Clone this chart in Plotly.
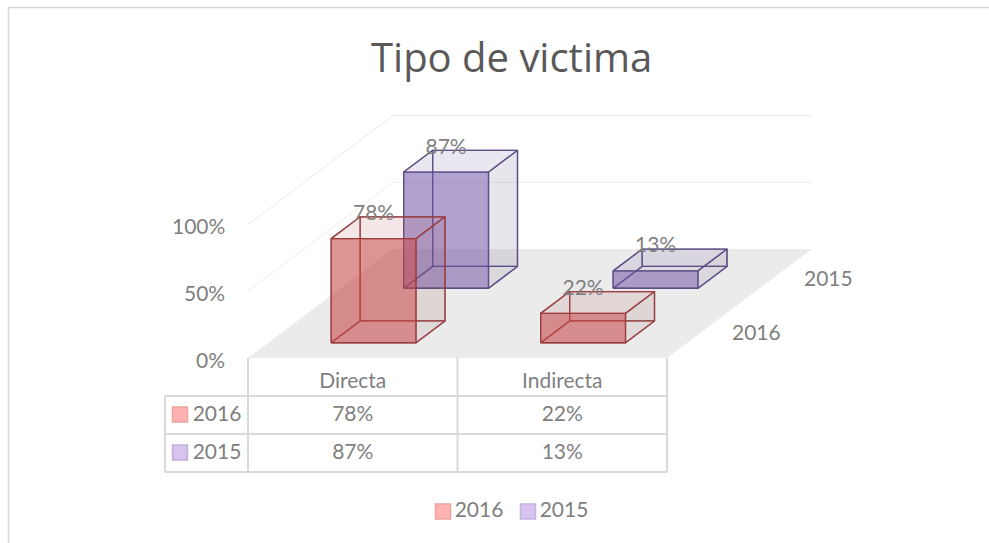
import plotly.graph_objects as go

# ---- data ----
title_text = "Tipo de victima"
categories = ["Directa", "Indirecta"]
series_names = ["2016", "2015"]
values_2016 = [78, 22]
values_2015 = [87, 13]
tick_values = [0, 50, 100]

# ---- oblique projection (style / layout constants) ----
OX, OY = 248.0, 358.0        # front-left corner of floor
CAT_W = 209.5                # pixels per category
DX, DY = 72.5, -54.5         # pixels per series along depth
PX_PCT = 1.335               # pixels per percent
BAR_C0, BAR_CW = 0.30, 0.405
BAR_D0, BAR_DW = 0.28, 0.40
GRID = "#ececec"
TABLE = "#d9d9d9"
TXT = "#7f7f7f"
FONT = "Lato"
FS = 21

STYLES = {
    "2016": dict(front="rgba(200,70,70,0.55)", bottom="rgba(200,70,70,0.04)",
                 side="rgba(130,90,90,0.08)", top="rgba(190,90,90,0.07)",
                 edge="rgba(150,60,62,0.85)", key="#ffb3b0", keyline="#eba3a0"),
    "2015": dict(front="rgba(110,80,165,0.50)", bottom="rgba(110,80,165,0.04)",
                 side="rgba(90,75,120,0.08)", top="rgba(110,90,150,0.07)",
                 edge="rgba(90,75,130,0.85)", key="#d6c3ee", keyline="#c3b1dc"),
}


def P(c, d, v):
    """category, series-depth, percent -> plot coordinates"""
    return (OX + c * CAT_W + d * DX, OY + d * DY - v * PX_PCT)


fig = go.Figure()


def poly(pts, fill=None, line=None, width=1.3):
    xs = [p[0] for p in pts]
    ys = [p[1] for p in pts]
    fig.add_trace(go.Scatter(
        x=xs, y=ys, mode="lines", hoverinfo="skip", showlegend=False,
        fill="toself" if fill else None, fillcolor=fill,
        line=dict(color=line or "rgba(0,0,0,0)", width=width if line else 0),
    ))


def label(x, y, text, size=FS, color=TXT):
    fig.add_trace(go.Scatter(
        x=[x], y=[y + 2], mode="text", text=[text], textposition="middle center",
        textfont=dict(family=FONT, size=size, color=color),
        hoverinfo="skip", showlegend=False,
    ))


def key(x, y, name):
    st = STYLES[name]
    fig.add_trace(go.Scatter(
        x=[x], y=[y], mode="markers", hoverinfo="skip", showlegend=False,
        marker=dict(symbol="square", size=15, color=st["key"],
                    line=dict(color=st["keyline"], width=1.5)),
    ))


# frame of the chart
poly([(8.5, 543), (8.5, 7.5), (989, 7.5)], line="#d9d9d9", width=1.5)

# floor
poly([P(0, 0, 0), P(2, 0, 0), P(2, 2, 0), P(0, 2, 0), P(0, 0, 0)], fill="#ebebeb")

# gridlines on the walls
for t in tick_values[1:]:
    poly([P(0, 0, t), P(0, 2, t), P(2, 2, t)], line=GRID, width=1)


def bar(ci, si, v, name):
    st = STYLES[name]
    c0, c1 = ci + BAR_C0, ci + BAR_C0 + BAR_CW
    d0, d1 = si + BAR_D0, si + BAR_D0 + BAR_DW
    fb = [P(c0, d0, 0), P(c1, d0, 0), P(c1, d0, v), P(c0, d0, v)]
    bb = [P(c0, d1, 0), P(c1, d1, 0), P(c1, d1, v), P(c0, d1, v)]
    close = lambda a: a + [a[0]]
    # back, left, bottom, right, top, front
    poly(close(bb), fill=st["top"], line=st["edge"])
    poly(close([fb[0], bb[0], bb[3], fb[3]]), fill=st["top"], line=st["edge"])
    poly(close([fb[0], fb[1], bb[1], bb[0]]), fill=st["bottom"], line=st["edge"])
    poly(close([fb[1], bb[1], bb[2], fb[2]]), fill=st["side"], line=st["edge"])
    poly(close([fb[3], fb[2], bb[2], bb[3]]), fill=st["top"], line=st["edge"])
    poly(close(fb), fill=st["front"], line=st["edge"])
    x = (fb[0][0] + fb[1][0]) / 2
    y = bb[3][1] - 4
    return x, y, f"{v}%"


# far series first, so the near series overlays it
labels = []
for ci, v in enumerate(values_2015):
    labels.append(bar(ci, 1, v, "2015"))
for ci, v in enumerate(values_2016):
    labels.append(bar(ci, 0, v, "2016"))
for x, y, t in labels:
    label(x, y, t)

# value axis labels
for t in tick_values:
    fig.add_annotation(x=227, y=OY - t * PX_PCT + 1, text=f"{t}%", showarrow=False,
                       xanchor="right", yanchor="middle", xref="x", yref="y",
                       font=dict(family=FONT, size=FS, color=TXT))

# depth axis labels
for si, n in enumerate(series_names):
    x, y = P(2, si + 0.5, 0)
    fig.add_annotation(x=x + 53, y=y + 1, text=n, showarrow=False, xref="x", yref="y",
                       font=dict(family=FONT, size=FS, color=TXT))

# data table
ROW = [396, 434, 472]
COLX = [165, 248, 457.5, 667]
for cx in COLX[1:]:
    poly([(cx, OY), (cx, ROW[2])], line=TABLE, width=2)
poly([(COLX[0], ROW[0]), (COLX[0], ROW[2])], line=TABLE, width=2)
for r in ROW:
    poly([(COLX[0], r), (COLX[3], r)], line=TABLE, width=2)

for ci, c in enumerate(categories):
    cx = (COLX[ci + 1] + COLX[ci + 2]) / 2
    label(cx, 381, c)
    label(cx, 413.5, f"{values_2016[ci]}%")
    label(cx, 451.5, f"{values_2015[ci]}%")
for ri, n in enumerate(series_names):
    yy = 413.5 + 38 * ri
    key(180, yy + 1, n)
    label(217, yy, n)

# legend
for n, kx, tx in zip(series_names, [443, 528], [479, 564]):
    key(kx, 511.5, n)
    label(tx, 509.5, n)

# title
fig.add_annotation(x=511.5, y=56, text=title_text, showarrow=False, xref="x", yref="y",
                   font=dict(family="Open Sans", size=40, color="#595959"))

fig.update_layout(
    width=989, height=543, margin=dict(l=0, r=0, t=0, b=0),
    paper_bgcolor="white", plot_bgcolor="white", showlegend=False,
    xaxis=dict(range=[0, 989], visible=False, fixedrange=True),
    yaxis=dict(range=[543, 0], visible=False, fixedrange=True),
)
fig.write_html("out.html", config=dict(displayModeBar=False),
               post_script="document.body.style.margin='0';document.body.style.overflow='hidden';")
